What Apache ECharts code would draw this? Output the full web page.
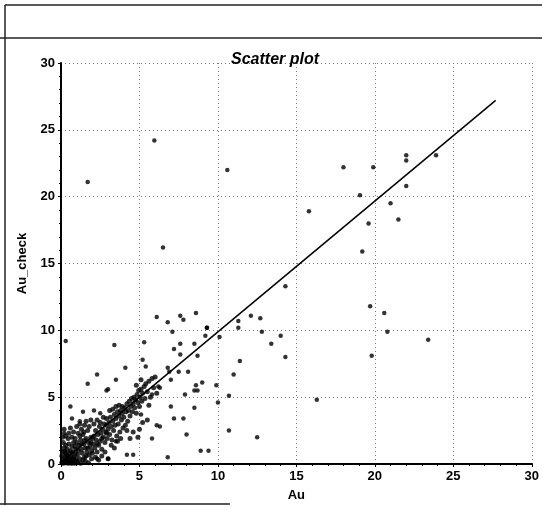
<!DOCTYPE html>
<html>
<head>
<meta charset="utf-8">
<script src="https://cdn.jsdelivr.net/npm/echarts@6/dist/echarts.min.js"></script>
<style>
  html, body { margin:0; padding:0; background:#fff; }
  #chart { width:542px; height:507px; }
</style>
</head>
<body>
<div id="chart"></div>
<script type="text/javascript">
// dense cloud near the origin (Au, Au_check)
var clusterPts = [
  [0.05,0.1],[0.1,0.3],[0.15,0.05],[0.2,0.2],[0.25,0.5],[0.3,0.1],[0.35,0.35],[0.4,0.6],[0.45,0.2],[0.5,0.45],
  [0.55,0.8],[0.6,0.3],[0.65,0.6],[0.7,0.1],[0.75,0.9],[0.8,0.5],[0.85,0.25],[0.9,0.75],[0.95,1.1],[0.1,0.9],
  [0.2,1.2],[0.3,0.8],[0.15,1.6],[0.3,1.4],[0.4,1.1],[0.5,1.5],[0.6,1.0],[0.7,1.3],[0.8,1.6],[0.9,1.3],
  [0.05,0.6],[0.25,0.95],[0.45,0.05],[0.55,0.15],[0.65,0.05],[0.85,0.05],[0.95,0.4],[0.35,0.65],[0.75,0.4],[0.1,2.0],
  [0.3,2.1],[0.2,2.6],[0.5,2.3],[0.45,1.9],[0.6,2.7],[0.7,2.0],[0.8,2.4],[0.9,1.9],
  [1.0,0.2],[1.05,0.7],[1.1,1.0],[1.15,1.4],[1.2,0.4],[1.25,1.8],[1.3,1.1],[1.35,0.8],[1.4,2.2],[1.45,1.5],
  [1.5,0.5],[1.55,1.2],[1.6,1.9],[1.65,0.9],[1.7,2.5],[1.75,1.6],[1.8,0.7],[1.85,1.3],[1.9,2.0],[1.95,1.0],
  [1.0,2.8],[1.1,2.3],[1.2,3.0],[1.3,2.6],[1.5,2.9],[1.6,3.2],[1.8,2.8],[1.9,3.3],[1.0,1.6],[1.2,2.1],
  [1.4,0.3],[1.6,0.6],[1.7,1.2],[1.9,1.6],[1.05,0.1],[1.25,0.05],[1.55,0.2],[1.75,0.1],[1.95,0.4],[1.3,1.5],
  [1.5,1.75],[1.45,2.4],
  [2.0,0.8],[2.05,1.5],[2.1,2.1],[2.15,1.2],[2.2,2.5],[2.25,1.8],[2.3,0.9],[2.35,2.2],[2.4,1.4],[2.45,2.8],
  [2.5,1.7],[2.55,2.3],[2.6,1.1],[2.65,2.6],[2.7,2.0],[2.75,3.0],[2.8,1.6],[2.85,2.4],[2.9,2.9],[2.95,1.9],
  [2.1,3.0],[2.3,3.3],[2.5,3.1],[2.7,3.5],[2.9,3.4],[2.2,0.5],[2.4,0.3],[2.6,0.6],[2.8,0.9],[3.0,0.4],
  [2.0,1.9],[2.3,1.5],[2.6,1.9],[2.9,2.3],
  [3.0,2.6],[3.05,3.1],[3.1,2.2],[3.15,3.5],[3.2,2.8],[3.25,1.8],[3.3,3.2],[3.35,2.5],[3.4,3.7],[3.45,2.9],
  [3.5,3.4],[3.55,2.1],[3.6,3.9],[3.65,3.0],[3.7,3.6],[3.75,2.4],[3.8,4.0],[3.85,3.3],[3.9,3.8],[3.95,2.7],
  [3.1,4.0],[3.3,4.1],[3.5,4.3],[3.7,4.4],[3.2,1.4],[3.4,1.2],[3.6,1.7],[3.8,1.9],[3.9,4.3],
  [4.0,3.5],[4.05,4.2],[4.1,2.9],[4.15,3.9],[4.2,4.5],[4.25,3.2],[4.3,4.0],[4.35,4.7],[4.4,3.6],[4.45,4.3],
  [4.5,4.9],[4.55,3.9],[4.6,4.5],[4.65,5.0],[4.7,4.2],[4.75,4.8],[4.8,3.8],[4.85,5.2],[4.9,4.6],[4.95,5.5],
  [5.0,4.3],[5.05,5.0],[5.1,5.6],[5.15,4.7],[5.2,5.3],[5.3,5.8],[5.35,4.9],[5.4,6.0],[5.5,5.4],[5.6,6.2],
  [5.7,5.0],[5.8,6.4],[5.9,5.7],[6.0,6.5],[6.1,5.3],[5.0,2.6],[5.2,3.1],[4.9,2.0],[4.6,2.4],[4.2,2.5],
  [4.4,1.9],[5.5,3.3],[5.6,4.4],[5.1,6.3],[4.8,5.9]
];

// scattered points away from the cloud
var outlierPts = [
  [5.95,24.2],[1.7,21.1],[10.6,22.0],[6.5,16.2],[18.0,22.2],[19.9,22.2],[19.05,20.1],[15.8,18.9],
  [22.0,23.1],[22.0,22.7],[23.9,23.1],[21.0,19.5],[22.0,20.8],[19.6,18.0],[21.5,18.3],[19.2,15.9],
  [19.7,11.8],[20.6,11.3],[20.8,9.9],[23.4,9.3],[19.8,8.1],
  [14.3,13.3],[12.1,11.1],[12.7,10.9],[11.3,10.7],[11.3,10.2],[9.3,10.2],[9.2,9.6],[10.1,9.5],
  [12.8,9.9],[14.0,9.6],[13.4,9.0],[14.3,8.0],[11.4,7.7],[11.0,6.7],[9.0,6.1],[9.9,5.9],[10.7,5.1],
  [10.0,4.6],[16.3,4.8],[10.7,2.5],[12.5,2.0],[9.4,1.0],
  [0.3,9.2],[3.4,8.9],[5.3,9.1],[7.2,8.6],[7.6,9.0],[8.5,9.0],[7.6,8.2],[8.7,8.1],[5.2,7.8],[5.4,7.3],
  [4.1,7.2],[2.3,6.7],[3.5,6.3],[1.7,6.0],[6.9,6.9],[7.5,6.9],[8.1,6.9],[8.6,5.9],[7.0,6.3],[6.2,5.8],
  [2.9,5.5],[7.9,5.2],[8.5,5.5],[7.0,4.3],[8.5,4.2],[7.2,3.4],[7.8,3.4],[6.1,2.9],[6.3,2.8],[8.0,2.2],
  [5.8,1.9],[6.8,0.5],[4.6,0.7],[3.0,0.4],[2.3,0.4],[0.6,4.3],[0.7,3.4],[1.2,3.2],[1.4,3.9],[2.1,4.0],
  [2.5,3.8],[0.2,2.3],[5.1,3.7],[6.1,11.0],[6.8,10.6],[7.6,11.1],[7.8,10.8],[8.6,11.3],[9.3,10.2],
  [7.1,9.9],[6.8,7.2],[3.0,5.6],[6.3,5.7],[5.8,5.2],[8.7,5.5],[3.5,1.7],[4.2,0.7],[8.9,1.0]
];

// fitted line end points
var fitX = [0, 27.7];
var fitY = [0.1, 27.2];

var xTicks = [0, 5, 10, 15, 20, 25, 30];
var yTicks = [0, 5, 10, 15, 20, 25, 30];

var chart = echarts.init(document.getElementById('chart'));

var labelStyle = { color:'#000', fontWeight:'bold', fontSize:13, fontFamily:'Liberation Sans, Arial, sans-serif' };
var gridStyle = { show:true, lineStyle:{ color:'#777', type:[1,3], width:1 } };

var option = {
  animation: false,
  backgroundColor: '#fff',
  title: {
    text: 'Scatter plot',
    left: 226, top: 47,
    textStyle: { fontSize:16, fontWeight:'bold', fontStyle:'italic', color:'#000', fontFamily:'Liberation Sans, Arial, sans-serif' }
  },
  grid: { left:61, right:8, top:63, bottom:42 },
  xAxis: {
    type:'value', min:xTicks[0], max:xTicks[xTicks.length-1], interval:5,
    name:'Au', nameLocation:'middle', nameGap:25,
    nameTextStyle: labelStyle,
    axisLine:{ onZero:false, lineStyle:{ color:'#000', width:2 } },
    axisTick:{ show:true, length:3, lineStyle:{ color:'#000' } },
    minorTick:{ show:true, splitNumber:5, length:2, lineStyle:{ color:'#000' } },
    axisLabel: Object.assign({ margin:6 }, labelStyle),
    splitLine: gridStyle
  },
  yAxis: {
    type:'value', min:yTicks[0], max:yTicks[yTicks.length-1], interval:5,
    name:'Au_check', nameLocation:'middle', nameGap:32,
    nameTextStyle: labelStyle,
    axisLine:{ onZero:false, lineStyle:{ color:'#000', width:2 } },
    axisTick:{ show:true, length:3, lineStyle:{ color:'#000' } },
    minorTick:{ show:true, splitNumber:5, length:2, lineStyle:{ color:'#000' } },
    axisLabel: Object.assign({ margin:6 }, labelStyle),
    splitLine: gridStyle
  },
  series: [
    {
      type:'scatter', data: clusterPts, symbolSize:5,
      itemStyle:{ color:'#000' }
    },
    {
      type:'scatter', data: outlierPts, symbolSize:4.5,
      itemStyle:{ color:'#000' }
    },
    {
      type:'line', data: fitX.map(function(x, i){ return [x, fitY[i]]; }),
      symbol:'none', lineStyle:{ color:'#000', width:1.5 }
    }
  ],
  graphic: [
    { type:'line', shape:{ x1:5, y1:5, x2:542, y2:5 }, style:{ stroke:'#222', lineWidth:1.5 } },
    { type:'line', shape:{ x1:0, y1:38, x2:542, y2:38 }, style:{ stroke:'#222', lineWidth:1.5 } },
    { type:'line', shape:{ x1:5, y1:5, x2:5, y2:505 }, style:{ stroke:'#222', lineWidth:1.5 } },
    { type:'line', shape:{ x1:0, y1:504, x2:230, y2:504 }, style:{ stroke:'#222', lineWidth:1.5 } }
  ]
};

chart.setOption(option);
</script>
</body>
</html>
